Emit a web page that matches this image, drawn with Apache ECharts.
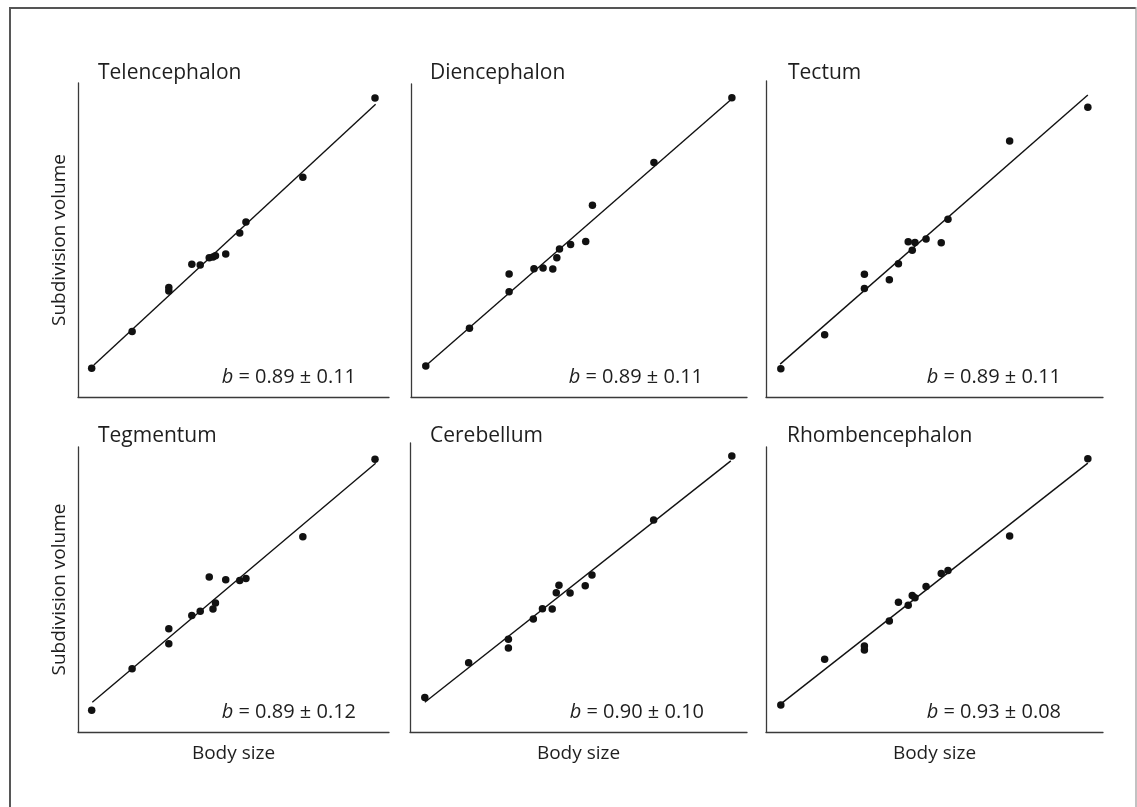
<!DOCTYPE html>
<html>
<head>
<meta charset="utf-8">
<script src="https://cdn.jsdelivr.net/npm/echarts@6/dist/echarts.min.js"></script>
<style>
html,body{margin:0;padding:0;background:#fff;}
#chart{width:1137px;height:807px;}
</style>
</head>
<body>
<div id="chart"></div>
<script>
// ---- data (relative units) ----
const panelNames = ['Telencephalon', 'Diencephalon', 'Tectum', 'Tegmentum', 'Cerebellum', 'Rhombencephalon'];
const slopeTexts = ['0.89 ± 0.11', '0.89 ± 0.11', '0.89 ± 0.11', '0.89 ± 0.12', '0.90 ± 0.10', '0.93 ± 0.08'];
const bodySize = [4.4, 17.4, 29.2, 29.2, 36.6, 39.3, 42.2, 43.4, 44.2, 47.5, 52.0, 54.0, 72.3, 95.5];
const telencephalon   = [9.2, 20.9, 33.9, 35.0, 42.4, 42.2, 44.5, 44.7, 45.1, 45.7, 52.4, 55.9, 70.2, 95.5];
const diencephalon    = [9.9, 22.0, 33.6, 39.3, 41.0, 41.2, 40.9, 44.5, 47.3, 48.7, 49.7, 61.3, 74.9, 95.6];
const tectum          = [9.0, 19.9, 34.7, 39.2, 37.5, 42.6, 49.6, 46.9, 49.4, 50.5, 49.3, 56.8, 81.8, 92.6];
const tegmentum       = [7.6, 22.1, 30.9, 36.1, 40.7, 42.2, 54.2, 43.0, 45.1, 53.2, 53.0, 53.7, 68.3, 95.4];
const cerebellum      = [12.1, 24.2, 29.4, 32.4, 39.5, 43.1, 43.0, 48.7, 51.3, 48.6, 51.1, 54.9, 74.1, 96.5];
const rhombencephalon = [9.4, 25.4, 28.7, 30.1, 38.8, 45.4, 44.3, 47.7, 46.9, 50.9, 55.4, 56.5, 68.5, 95.5];
// regression line end points [x, y]
const telFit   = [[5.1, 10.2], [95.7, 93.5]];
const dienFit  = [[4.3, 9.9], [95.1, 94.9]];
const tectFit  = [[4.2, 10.5], [95.5, 96.5]];
const tegFit   = [[4.6, 10.4], [95.7, 94.0]];
const cereFit  = [[4.4, 10.4], [95.2, 94.8]];
const rhomFit  = [[4.6, 10.0], [95.5, 94.0]];

const panelValues = [telencephalon, diencephalon, tectum, tegmentum, cerebellum, rhombencephalon];
const panelFits = [telFit, dienFit, tectFit, tegFit, cereFit, rhomFit];

// ---- layout ----
const grids = [
  {left: 78,  top: 83,  width: 311, height: 314},
  {left: 411, top: 84,  width: 336, height: 313},
  {left: 766, top: 81,  width: 337, height: 316},
  {left: 78,  top: 447, width: 311, height: 285},
  {left: 410, top: 443, width: 337, height: 289},
  {left: 766, top: 447, width: 337, height: 285}
];
const refH = [313, 313, 313, 286, 286, 286];
const titlePos = [[98, 73], [430, 73], [788, 73], [98, 436], [430, 436], [787, 436]];
const slopePos = [[356, 377], [703, 377], [1061, 377], [356, 712], [704, 712], [1061, 712]];

const FONT = '"Open Sans", "DejaVu Sans", sans-serif';
const TXT = '#1e1e1e';
const AX = '#3a3a3a';

const xAxes = [], yAxes = [], series = [], graphics = [];
grids.forEach((g, i) => {
  const col = i % 3, row = Math.floor(i / 3);
  xAxes.push({
    type: 'value', gridIndex: i, min: 0, max: 100,
    axisLine: {show: true, onZero: false, lineStyle: {color: AX, width: 1.3}},
    axisTick: {show: false}, axisLabel: {show: false}, splitLine: {show: false},
    name: row === 1 ? 'Body size' : '', nameLocation: 'middle', nameGap: 12,
    nameTextStyle: {color: TXT, fontSize: 19, fontFamily: FONT}
  });
  yAxes.push({
    type: 'value', gridIndex: i, min: 0, max: 100 * g.height / refH[i],
    axisLine: {show: true, onZero: false, lineStyle: {color: AX, width: 1.3}},
    axisTick: {show: false}, axisLabel: {show: false}, splitLine: {show: false},
    name: col === 0 ? 'Subdivision volume' : '', nameLocation: 'middle', nameGap: 9, nameRotate: 90,
    nameTextStyle: {color: TXT, fontSize: 19, fontFamily: FONT}
  });
  series.push({
    type: 'line', xAxisIndex: i, yAxisIndex: i, data: panelFits[i],
    showSymbol: false, symbol: 'none', silent: true, z: 2,
    lineStyle: {color: '#111', width: 1.4}
  });
  series.push({
    type: 'scatter', xAxisIndex: i, yAxisIndex: i,
    data: bodySize.map((x, k) => [x, panelValues[i][k]]),
    symbolSize: 7.5, itemStyle: {color: '#111', opacity: 1}, z: 3, silent: true
  });
  graphics.push({
    type: 'text', x: titlePos[i][0], y: titlePos[i][1],
    style: {text: panelNames[i], fill: TXT, fontSize: 21, fontFamily: FONT,
            textAlign: 'left', textVerticalAlign: 'middle'}
  });
  graphics.push({
    type: 'text', x: slopePos[i][0], y: slopePos[i][1],
    style: {text: '{i|b} = ' + slopeTexts[i], fill: TXT, fontSize: 20, fontFamily: FONT,
            textAlign: 'right', textVerticalAlign: 'middle',
            rich: {i: {fontStyle: 'italic', fontSize: 20, fontFamily: FONT, fill: TXT}}}
  });
});

// outer frame
graphics.push({type: 'line', shape: {x1: 10, y1: 8, x2: 10, y2: 807}, style: {stroke: '#444', lineWidth: 1.8}});
graphics.push({type: 'line', shape: {x1: 9, y1: 8, x2: 1136, y2: 8}, style: {stroke: '#555', lineWidth: 1.8}});
graphics.push({type: 'line', shape: {x1: 1136, y1: 7, x2: 1136, y2: 807}, style: {stroke: '#999', lineWidth: 1.2}});

const chart = echarts.init(document.getElementById('chart'), null, {renderer: 'canvas'});
chart.setOption({
  backgroundColor: '#fff',
  animation: false,
  grid: grids.map(g => Object.assign({containLabel: false}, g)),
  xAxis: xAxes,
  yAxis: yAxes,
  series: series,
  graphic: graphics
});
</script>
</body>
</html>
